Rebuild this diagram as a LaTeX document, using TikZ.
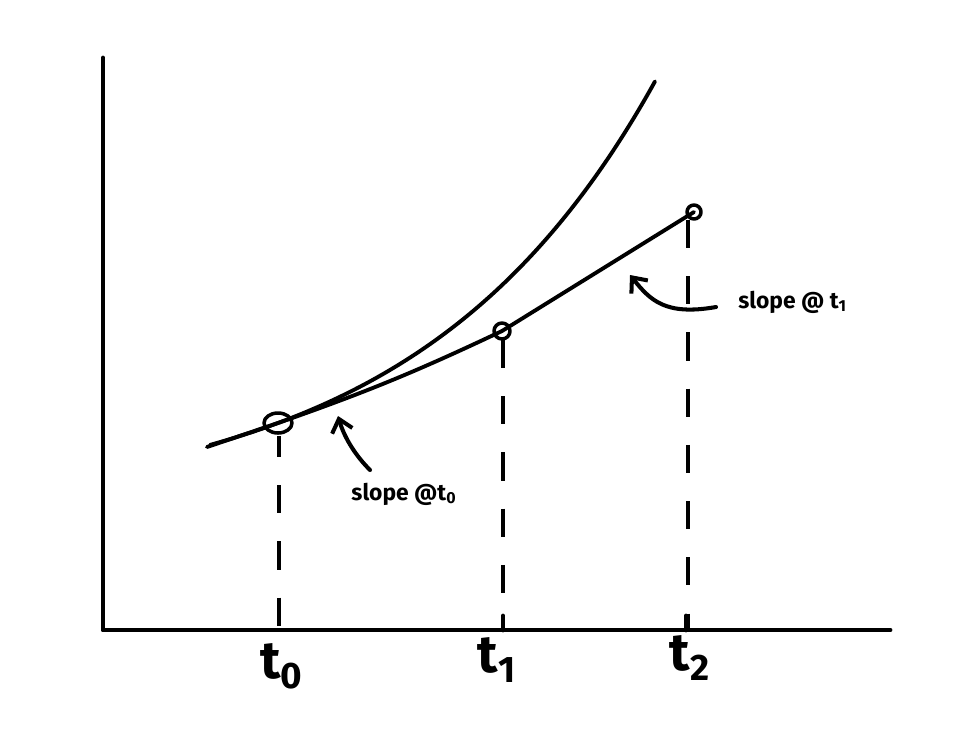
\documentclass[tikz,border=0pt]{standalone}
\usepackage{fontspec}
\setmainfont{Fira Sans}
\usetikzlibrary{arrows.meta}
\begin{document}
\begin{tikzpicture}[x=0.02cm,y=-0.02cm,line cap=round,line join=round,
  axisline/.style={line width=2.8pt},
  curveline/.style={line width=2.2pt},
  dashline/.style={line width=2.6pt,line cap=butt,dash pattern=on 16pt off 16pt},
  ptmark/.style={line width=2pt},
  pointer/.style={line width=2.3pt,-{Straight Barb[length=7pt,width=12pt,line width=2.3pt]}},
  tlabel/.style={font=\bfseries\fontsize{30}{32}\selectfont,inner sep=0pt},
  slabel/.style={font=\bfseries\fontsize{13}{15}\selectfont,inner sep=0pt}]
\useasboundingbox (0,0) rectangle (972,751);
% coordinates
\coordinate (origin) at (103,630);
\coordinate (ytop) at (103,58);
\coordinate (xend) at (890,630);
\coordinate (e0) at (207,447);
\coordinate (p0) at (278,423);
\coordinate (p1) at (502,331);
\coordinate (p2) at (694,212);
\coordinate (d0top) at (279,436);
\coordinate (d0bot) at (279,630);
\coordinate (d1top) at (503,340);
\coordinate (d1bot) at (503,630);
\coordinate (d2top) at (688,220);
\coordinate (d2bot) at (688,630);
% axes
\draw[axisline] (ytop) -- (origin) -- (xend);
% exponential curve
\draw[curveline] plot[smooth,samples=60,domain=210:655,variable=\x] (\x,{511.4-88.4*exp(0.0042*(\x-278))});
% Euler steps
\draw[curveline] (e0) -- (p0) to[bend right=3] (p1) -- (p2);
% dashed drop lines
\draw[dashline,dash phase=4pt] (d0top) -- (d0bot);
\draw[dashline] (d1top) -- (d1bot);
\draw[dashline] (d2top) -- (d2bot);
% ticks at t1, t2
\draw[axisline] (503,616) -- (503,630);
\draw[axisline] (686,616) -- (686,630);
% point marks
\draw[ptmark] (p0) ellipse [x radius=14,y radius=10];
\draw[ptmark] (p1) circle [radius=8];
\draw[ptmark] (p2) circle [radius=7];
% labels on axis
\node[tlabel] (t0) at (282,666) {t\textsubscript{0}};
\node[tlabel] (t1) at (497,660) {t\textsubscript{1}};
\node[tlabel] (t2) at (690,658) {t\textsubscript{2}};
% slope labels
\node[slabel,anchor=west] (s1) at (738,302) {slope @ t\textsubscript{1}};
\node[slabel] (s0) at (404,494) {slope @t\textsubscript{0}};
\coordinate (a1s) at (716,307);
\coordinate (a1e) at (630,275);
\coordinate (a0s) at (370,470);
\coordinate (a0e) at (338,416);
\draw[pointer] (a1s) .. controls (665,316) and (650,300) .. (a1e);
\draw[pointer] (a0s) .. controls (350,450) and (342,430) .. (a0e);
\end{tikzpicture}
\end{document}
